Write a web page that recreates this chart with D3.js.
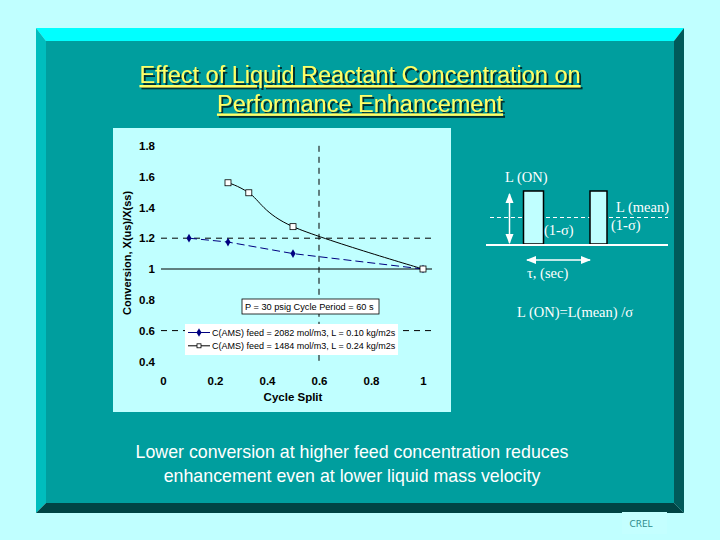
<!DOCTYPE html>
<html>
<head>
<meta charset="utf-8">
<script src="https://cdn.jsdelivr.net/npm/d3@7"></script>
<style>
  body { margin: 0; background: #c0ffff; }
  svg { display: block; }
</style>
</head>
<body>
<div id="slide"></div>
<script>
// chart data
var split1 = [0.1, 0.25, 0.5, 1.0];
var conv1 = [1.2, 1.175, 1.1, 1.0];
var split2 = [0.25, 0.33, 0.5, 1.0];
var conv2 = [1.56, 1.495, 1.275, 1.0];
var xTicks = [0, 0.2, 0.4, 0.6, 0.8, 1];
var yTicks = [0.4, 0.6, 0.8, 1, 1.2, 1.4, 1.6, 1.8];
var legendLabels = [
  'C(AMS) feed = 2082 mol/m3, L = 0.10 kg/m2s',
  'C(AMS) feed = 1484 mol/m3, L = 0.24 kg/m2s'
];
var titleLines = ['Effect of Liquid Reactant Concentration on', 'Performance Enhancement'];
var noteLines = ['Lower conversion at higher feed concentration reduces',
  'enhancement even at lower liquid mass velocity'];

var W = 720, H = 540;
var svg = d3.select('#slide').append('svg')
  .attr('width', W)
  .attr('height', H);

var defs = svg.append('defs');
defs.append('filter').attr('id', 'shadow').attr('x', '-5%').attr('y', '-20%').attr('width', '110%').attr('height', '150%')
  .append('feDropShadow').attr('dx', 2).attr('dy', 2).attr('stdDeviation', 0.3)
  .attr('flood-color', '#003030').attr('flood-opacity', 1);

svg.append('rect').attr('width', W).attr('height', H).attr('fill', '#c0ffff');

// bevelled frame
var o = {l: 36, t: 28, r: 684, b: 513}, i = {l: 46, t: 41, r: 674, b: 503};
function poly(pts, fill) {
  svg.append('polygon').attr('points', pts.map(function(p){ return p.join(','); }).join(' ')).attr('fill', fill);
}
poly([[o.l, o.t], [o.r, o.t], [i.r, i.t], [i.l, i.t]], '#00ffff');
poly([[o.l, o.t], [i.l, i.t], [i.l, i.b], [o.l, o.b]], '#00bdbd');
poly([[o.r, o.t], [o.r, o.b], [i.r, i.b], [i.r, i.t]], '#005a5a');
poly([[o.l, o.b], [i.l, i.b], [i.r, i.b], [o.r, o.b]], '#004444');
svg.append('rect').attr('x', i.l).attr('y', i.t).attr('width', i.r - i.l).attr('height', i.b - i.t)
  .attr('fill', '#009e9e');

// CREL tag
svg.append('rect').attr('x', 622).attr('y', 512).attr('width', 45).attr('height', 22).attr('fill', '#c4ffff');
svg.append('text').attr('x', 641).attr('y', 527).attr('text-anchor', 'middle')
  .style('font-family', 'DejaVu Sans, sans-serif').style('font-size', '9px').attr('fill', '#2f8c8c')
  .text('CREL');

// title
var font = 'Liberation Sans, Arial, sans-serif';
titleLines.forEach(function(t, k) {
  svg.append('text').attr('x', 360).attr('y', 83 + k * 28.5).attr('text-anchor', 'middle')
    .attr('fill', '#ffff66').style('text-decoration', 'underline')
    .attr('filter', 'url(#shadow)')
    .style('font-family', font).style('font-size', '23.5px')
    .text(t);
});

// bottom note
noteLines.forEach(function(t, k) {
  svg.append('text').attr('x', 352).attr('y', 458 + k * 23.5).attr('text-anchor', 'middle')
    .attr('fill', '#ffffff')
    .style('font-family', font).style('font-size', '17.8px')
    .text(t);
});

// chart panel
svg.append('rect').attr('x', 113).attr('y', 128).attr('width', 338).attr('height', 284).attr('fill', '#c0ffff');

var x = d3.scaleLinear().domain([0, 1]).range([163, 423]);
var y = d3.scaleLinear().domain([1, 1.8]).range([269, 145.8]);
var chart = svg.append('g');

// reference lines
chart.append('line').attr('x1', 161).attr('x2', 432).attr('y1', y(1)).attr('y2', y(1))
  .attr('stroke', '#000').attr('stroke-width', 1);
[1.2, 0.6].forEach(function(v) {
  chart.append('line').attr('x1', 161).attr('x2', 432).attr('y1', y(v)).attr('y2', y(v))
    .attr('stroke', '#000').attr('stroke-width', 1).attr('stroke-dasharray', '6,5');
});
chart.append('line').attr('x1', x(0.6)).attr('x2', x(0.6)).attr('y1', y(1.8)).attr('y2', y(0.38))
  .attr('stroke', '#000').attr('stroke-width', 1).attr('stroke-dasharray', '6,5');

// axes (labels only)
var yAxis = chart.append('g').attr('transform', 'translate(155,0)')
  .call(d3.axisLeft(y).tickValues(yTicks).tickSize(0).tickPadding(0).tickFormat(function(d){ return d; }));
var xAxis = chart.append('g').attr('transform', 'translate(0,377)')
  .call(d3.axisBottom(x).tickValues(xTicks).tickSize(0).tickPadding(0).tickFormat(function(d){ return d; }));
[yAxis, xAxis].forEach(function(a) {
  a.select('.domain').remove();
  a.selectAll('text').style('font-family', font).style('font-size', '11.5px')
    .style('font-weight', 'bold').attr('fill', '#000');
});

chart.append('text').attr('x', 293).attr('y', 401).attr('text-anchor', 'middle')
  .style('font-family', font).style('font-size', '11.5px').style('font-weight', 'bold')
  .text('Cycle Split');
chart.append('text').attr('transform', 'translate(131,253) rotate(-90)').attr('text-anchor', 'middle')
  .style('font-family', font).style('font-size', '11px').style('font-weight', 'bold')
  .text('Conversion, X(us)/X(ss)');

// annotation box
chart.append('rect').attr('x', 242).attr('y', 299).attr('width', 137).attr('height', 15)
  .attr('fill', '#fff').attr('stroke', '#000').attr('stroke-width', 0.8);
chart.append('text').attr('x', 245).attr('y', 310)
  .style('font-family', font).style('font-size', '9.2px')
  .text('P = 30 psig  Cycle Period = 60 s');

// series
var data1 = split1.map(function(s, k){ return [s, conv1[k]]; });
var data2 = split2.map(function(s, k){ return [s, conv2[k]]; });

chart.append('path').datum(data1)
  .attr('d', d3.line().x(function(d){ return x(d[0]); }).y(function(d){ return y(d[1]); }))
  .attr('fill', 'none').attr('stroke', '#000080').attr('stroke-width', 1).attr('stroke-dasharray', '8,4');
chart.append('path').datum(data2)
  .attr('d', d3.line().curve(d3.curveCardinal.tension(0)).x(function(d){ return x(d[0]); }).y(function(d){ return y(d[1]); }))
  .attr('fill', 'none').attr('stroke', '#000').attr('stroke-width', 1);

var diamond = d3.symbol().type(d3.symbolDiamond).size(22);
chart.selectAll('.m1').data(data1).enter().append('path').attr('class', 'm1')
  .attr('d', diamond)
  .attr('transform', function(d){ return 'translate(' + x(d[0]) + ',' + y(d[1]) + ')'; })
  .attr('fill', '#000080');
chart.selectAll('.m2').data(data2).enter().append('rect').attr('class', 'm2')
  .attr('x', function(d){ return x(d[0]) - 3; }).attr('y', function(d){ return y(d[1]) - 3; })
  .attr('width', 6).attr('height', 6)
  .attr('fill', '#fff').attr('stroke', '#000').attr('stroke-width', 0.8);

// legend
var legend = chart.append('g');
legend.append('rect').attr('x', 185).attr('y', 324).attr('width', 213).attr('height', 31).attr('fill', '#fff');
legendLabels.forEach(function(t, k) {
  var ly = 332.5 + k * 13.3;
  legend.append('line').attr('x1', 188).attr('x2', 210).attr('y1', ly).attr('y2', ly)
    .attr('stroke', k === 0 ? '#000080' : '#000').attr('stroke-width', 1);
  if (k === 0) {
    legend.append('path').attr('d', diamond).attr('transform', 'translate(199,' + ly + ')').attr('fill', '#000080');
  } else {
    legend.append('rect').attr('x', 197).attr('y', ly - 2).attr('width', 4).attr('height', 4)
      .attr('fill', '#fff').attr('stroke', '#000').attr('stroke-width', 0.8);
  }
  legend.append('text').attr('x', 212).attr('y', ly + 3)
    .style('font-family', font).style('font-size', '9px')
    .text(t);
});

// pulse diagram
var serif = 'Liberation Serif, Times New Roman, serif';
var diag = svg.append('g').attr('fill', '#fff')
  .style('font-family', serif).style('font-size', '14.5px');

defs.append('marker').attr('id', 'ah').attr('viewBox', '0 0 10 10')
  .attr('refX', 9).attr('refY', 5).attr('markerWidth', 7).attr('markerHeight', 7)
  .attr('orient', 'auto-start-reverse')
  .append('path').attr('d', 'M0,1L10,5L0,9Z').attr('fill', '#fff');

diag.append('line').attr('x1', 490).attr('x2', 668).attr('y1', 217.5).attr('y2', 217.5)
  .attr('stroke', '#fff').attr('stroke-width', 1).attr('stroke-dasharray', '4,3');
[[523.5, 20], [590, 17]].forEach(function(r) {
  diag.append('rect').attr('x', r[0]).attr('y', 191).attr('width', r[1]).attr('height', 53)
    .attr('fill', '#c0ffff').attr('stroke', '#000').attr('stroke-width', 1.5);
});
diag.append('line').attr('x1', 486).attr('x2', 668).attr('y1', 245).attr('y2', 245)
  .attr('stroke', '#fff').attr('stroke-width', 2);
diag.append('line').attr('x1', 509.5).attr('x2', 509.5).attr('y1', 194).attr('y2', 243)
  .attr('stroke', '#fff').attr('stroke-width', 1.5)
  .attr('marker-start', 'url(#ah)').attr('marker-end', 'url(#ah)');
diag.append('line').attr('x1', 527).attr('x2', 590).attr('y1', 260).attr('y2', 260)
  .attr('stroke', '#fff').attr('stroke-width', 1.5)
  .attr('marker-start', 'url(#ah)').attr('marker-end', 'url(#ah)');

diag.append('text').attr('x', 505).attr('y', 182).text('L (ON)');
diag.append('text').attr('x', 616).attr('y', 212).text('L (mean)');
diag.append('text').attr('x', 544).attr('y', 235).text('(1-σ)');
diag.append('text').attr('x', 611).attr('y', 230).text('(1-σ)');
diag.append('text').attr('x', 527).attr('y', 278).text('τ, (sec)');
diag.append('text').attr('x', 517).attr('y', 317).text('L (ON)=L(mean) /σ');
</script>
</body>
</html>
